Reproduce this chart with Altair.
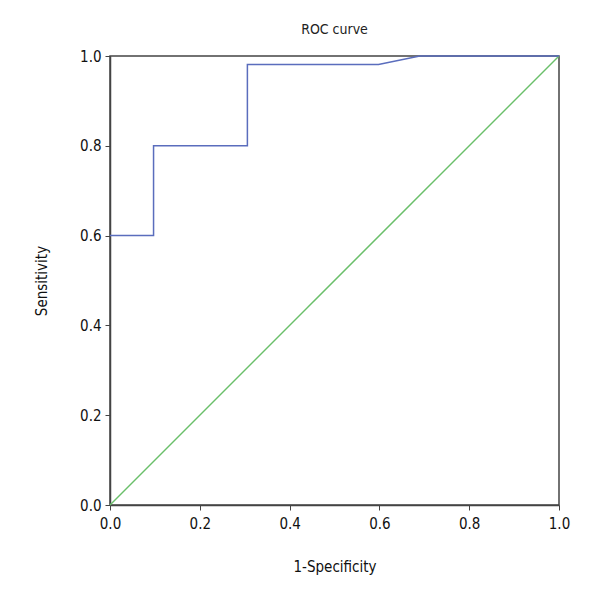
import altair as alt
import pandas as pd

roc_fpr = [0.0, 0.097, 0.097, 0.306, 0.306, 0.598, 0.69, 1.0]
roc_tpr = [0.6, 0.6, 0.8, 0.8, 0.981, 0.981, 1.0, 1.0]
diag_x = [0.0, 1.0]
diag_y = [0.0, 1.0]
ticks = [0.0, 0.2, 0.4, 0.6, 0.8, 1.0]

roc = pd.DataFrame({"x": roc_fpr, "y": roc_tpr, "o": list(range(len(roc_fpr)))})
diag = pd.DataFrame({"x": diag_x, "y": diag_y, "o": [0, 1]})

FONT = "DejaVu Sans Condensed, Roboto, sans-serif"

xs = alt.Scale(domain=[0, 1], nice=False)
ys = alt.Scale(domain=[0, 1], nice=False)
xax = alt.Axis(values=ticks, format=".1f", title="1-Specificity", grid=False,
               titlePadding=28, labelPadding=6, labelFlush=False)
yax = alt.Axis(values=ticks, format=".1f", title="Sensitivity", grid=False,
               titlePadding=30, labelPadding=4, labelFlush=False)

diag_line = alt.Chart(diag).mark_line(color="#6abf6a", strokeWidth=1.5).encode(
    x=alt.X("x:Q", scale=xs, axis=xax),
    y=alt.Y("y:Q", scale=ys, axis=yax),
    order="o:Q",
)
roc_line = alt.Chart(roc).mark_line(color="#5a6dbd", strokeWidth=1.5).encode(
    x=alt.X("x:Q", scale=xs, axis=xax),
    y=alt.Y("y:Q", scale=ys, axis=yax),
    order="o:Q",
)

chart = alt.layer(diag_line, roc_line).properties(
    width=449, height=449,
    title=alt.TitleParams("ROC curve", fontSize=14, font=FONT, fontWeight="normal",
                          color="#222", offset=12),
    autosize=alt.AutoSizeParams(type="none"),
    padding={"left": 102, "top": 48, "right": 30, "bottom": 80},
).configure_view(stroke="#444", strokeWidth=1.5).configure_axis(
    domainColor="#444", domainWidth=1.5, tickColor="#444", tickSize=5,
    labelFont=FONT, titleFont=FONT, labelFontSize=15, titleFontSize=15,
    titleFontWeight="normal", labelColor="#111", titleColor="#111",
)

chart.save("out.html", embed_options={"renderer": "svg", "actions": False})
